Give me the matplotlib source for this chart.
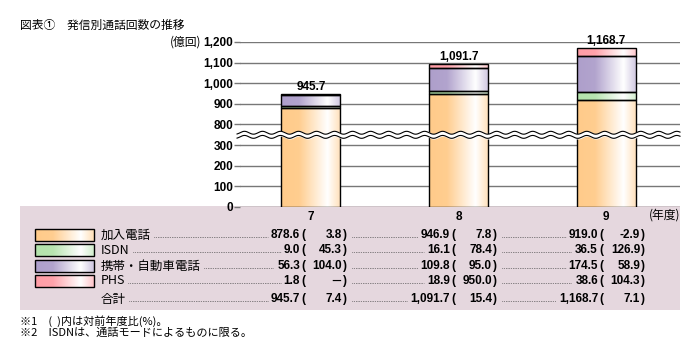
import numpy as np
import matplotlib
matplotlib.use("Agg")
import matplotlib.pyplot as plt
from matplotlib.patches import Rectangle

# -----------------------------
# Data (億回)
# -----------------------------
years = ["7", "8", "9"]
kanyu = [878.6, 946.9, 919.0]
isdn = [9.0, 16.1, 36.5]
keitai = [56.3, 109.8, 174.5]
phs = [1.8, 18.9, 38.6]
totals = [945.7, 1091.7, 1168.7]

kanyu_rate = [3.8, 7.8, -2.9]
isdn_rate = [45.3, 78.4, 126.9]
keitai_rate = [104.0, 95.0, 58.9]
phs_rate = [None, 950.0, 104.3]
total_rate = [7.4, 15.4, 7.1]

series_names = ["加入電話", "ISDN", "携帯・自動車電話", "PHS"]
series_vals = [kanyu, isdn, keitai, phs]
series_rates = [kanyu_rate, isdn_rate, keitai_rate, phs_rate]
series_cols = ["#FFCB8A", "#B4E3AC", "#AE9FCB", "#FF9DA6"]

ytick_vals = [0, 100, 200, 300, 800, 900, 1000, 1100, 1200]

JP = ["Noto Sans CJK JP", "DejaVu Sans"]
NUM = ["Liberation Sans", "Noto Sans CJK JP"]

# axis break: values >= 800 are shifted down by 400
BREAK_LO, BREAK_HI = 300, 800


def squash(v):
    return v if v <= BREAK_LO else v - (BREAK_HI - BREAK_LO - 100)


def gradient(color, n=80):
    base = np.array(matplotlib.colors.to_rgb(color))
    t = np.linspace(0, 1, n)
    w = np.interp(t, [0, 0.3, 0.78, 1.0], [0, 0.05, 1.0, 0.4])
    rgb = base[None, :] * (1 - w[:, None]) + w[:, None]
    return rgb[None, :, :]


fig = plt.figure(figsize=(7, 3.6), dpi=100)

# background / table axes in pixel coordinates
bg = fig.add_axes([0, 0, 1, 1], zorder=0)
bg.set_xlim(0, 700)
bg.set_ylim(360, 0)
bg.axis("off")
bg.add_patch(Rectangle((20, 206), 660, 104, color="#E5D7DE", lw=0))

# main chart axes
ax = fig.add_axes([240 / 700, 1 - 207 / 360, 440 / 700, 165 / 360], zorder=1)
ax.patch.set_alpha(0)

x = np.arange(len(years))
bw = 0.40
for i in range(len(years)):
    bottom = 0.0
    for vals, col in zip(series_vals, series_cols):
        top = bottom + vals[i]
        y0, y1 = squash(bottom), squash(top)
        ax.imshow(gradient(col), extent=[x[i] - bw / 2, x[i] + bw / 2, y0, y1],
                  aspect="auto", interpolation="bilinear", zorder=3)
        ax.add_patch(Rectangle((x[i] - bw / 2, y0), bw, y1 - y0, fill=False,
                               ec="black", lw=1.0, zorder=4))
        bottom = top
    ax.annotate(f"{totals[i]:,.1f}", (x[i], squash(totals[i])), xytext=(0, 1),
                textcoords="offset points", ha="center", va="bottom",
                fontsize=8.5, fontweight="bold", family=NUM, zorder=6)

# wavy break
xl = (-0.48, 2.50)
xs = np.linspace(xl[0] - 0.02, xl[1], 800)
mid = squash(BREAK_LO) + 50
wave = 7 * np.sin(2 * np.pi * (xs - xl[0]) / 0.122)
ax.fill_between(xs, mid - 10 + wave, mid + 10 + wave, color="white", zorder=5, clip_on=False)
ax.plot(xs, mid - 10 + wave, color="black", lw=0.8, zorder=5, clip_on=False)
ax.plot(xs, mid + 10 + wave, color="black", lw=0.8, zorder=5, clip_on=False)

ax.set_xlim(*xl)
ax.set_ylim(0, 800)
ax.set_yticks([squash(v) for v in ytick_vals])
ax.set_yticklabels([f"{v:,}" for v in ytick_vals], fontsize=8.5, fontweight="bold", family=NUM)
ax.set_xticks(x)
ax.set_xticklabels(years, fontsize=8.5, fontweight="bold", family=NUM)
ax.tick_params(axis="y", length=4, color="#777777", width=1, pad=1)
ax.tick_params(axis="x", length=0, pad=3)
ax.grid(axis="y", color="#777777", lw=1, zorder=1)
ax.set_axisbelow(True)
for s in ax.spines.values():
    s.set_visible(False)

# titles and units
bg.text(20, 25, "図表①　発信別通話回数の推移", fontsize=8.5, family=JP, va="center")
bg.text(201, 42, "(億回)", fontsize=8.5, family=JP, va="center", ha="right")
bg.text(680, 215, "(年度)", fontsize=8.5, family=JP, va="center", ha="right")

# table
fig.canvas.draw()
rend = fig.canvas.get_renderer()
inv = bg.transData.inverted()


def px_extent(t):
    bb = t.get_window_extent(renderer=rend)
    (x0, _), (x1, _) = inv.transform([(bb.x0, bb.y0), (bb.x1, bb.y1)])
    return x0, x1


def leader(xa, xb, y):
    if xb > xa:
        bg.plot([xa, xb], [y, y], color="#444444", lw=0.7, ls=(0, (0.6, 1.2)))


row_y = [235, 250, 266, 281, 299]
val_x = [300, 450, 598]
rows = [(n, v, r) for n, v, r in zip(series_names, series_vals, series_rates)]
rows.append(("合計", totals, total_rate))

for k, (name, vals, rates) in enumerate(rows):
    y = row_y[k]
    if k < 4:
        bg.imshow(gradient(series_cols[k]), extent=[35, 94, y + 6, y - 6],
                  aspect="auto", interpolation="bilinear", zorder=2)
        bg.add_patch(Rectangle((35, y - 6), 59, 12, fill=False, ec="black", lw=1.0, zorder=3))
    lab = bg.text(101, y, name, fontsize=9, family=JP, va="center")
    fig.canvas.draw()
    prev_end = px_extent(lab)[1] + 3
    for j in range(3):
        vt = bg.text(val_x[j], y, f"{vals[j]:,.1f}", fontsize=8.5, fontweight="bold",
                     family=NUM, va="center", ha="right")
        bg.text(val_x[j] + 1, y, "(", fontsize=8.5, fontweight="bold", family=NUM,
                va="center", ha="left")
        if rates[j] is None:
            bg.text(val_x[j] + 42, y, "－", fontsize=8.5, fontweight="bold", family=JP,
                    va="center", ha="right")
        else:
            bg.text(val_x[j] + 42, y, f"{rates[j]:.1f}", fontsize=8.5, fontweight="bold",
                    family=NUM, va="center", ha="right")
        bg.text(val_x[j] + 43, y, ")", fontsize=8.5, fontweight="bold", family=NUM,
                va="center", ha="left")
        fig.canvas.draw()
        leader(prev_end, px_extent(vt)[0] - 3, y + 2)
        prev_end = val_x[j] + 52

bg.set_xlim(0, 700)
bg.set_ylim(360, 0)

# footnotes
bg.text(20, 321, "※1　(  )内は対前年度比(%)。", fontsize=8, family=JP, va="center")
bg.text(20, 333, "※2　ISDNは、通話モードによるものに限る。", fontsize=8, family=JP, va="center")

fig.savefig("out.png", dpi=100)
